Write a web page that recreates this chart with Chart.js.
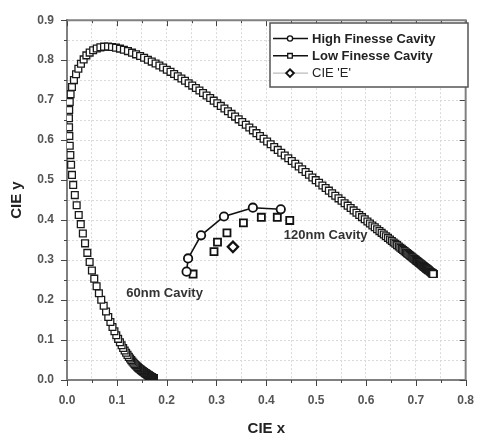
<!DOCTYPE html>
<html>
<head>
<meta charset="utf-8">
<script src="https://cdn.jsdelivr.net/npm/chart.js@4/dist/chart.umd.min.js"></script>
<style>
html,body{margin:0;padding:0;background:#fff}
canvas{display:block}
</style>
</head>
<body>
<canvas id="c" width="487" height="440"></canvas>
<script>
// CIE 1931 2-degree spectral locus: 380-415 nm (5 nm), 420-650 nm (1 nm), 655-780 nm (5 nm)
const locusX = [
.1741,.1740,.1738,.1736,.1733,.1730,.1726,.1721,
.1714,.1712,.1710,.1708,.1706,.1703,.1700,.1698,.1695,.1692,
.1689,.1685,.1681,.1677,.1673,.1669,.1664,.1659,.1654,.1649,
.1644,.1638,.1631,.1625,.1618,.1611,.1602,.1593,.1584,.1575,
.1566,.1555,.1544,.1533,.1522,.1510,.1497,.1483,.1469,.1455,
.1440,.1424,.1408,.1390,.1373,.1355,.1334,.1312,.1290,.1266,
.1241,.1214,.1186,.1157,.1127,.1096,.1062,.1026,.0989,.0952,
.0913,.0871,.0828,.0783,.0736,.0687,.0640,.0594,.0547,.0500,
.0454,.0408,.0362,.0318,.0276,.0235,.0194,.0157,.0124,.0100,
.0082,.0067,.0055,.0047,.0041,.0039,.0044,.0055,.0072,.0100,
.0139,.0181,.0228,.0280,.0334,.0389,.0455,.0525,.0597,.0670,
.0743,.0823,.0903,.0983,.1063,.1142,.1223,.1305,.1386,.1467,
.1547,.1624,.1701,.1778,.1854,.1929,.2003,.2077,.2150,.2223,
.2296,.2368,.2441,.2513,.2586,.2658,.2730,.2801,.2873,.2944,
.3016,.3087,.3159,.3230,.3302,.3373,.3445,.3516,.3588,.3659,
.3731,.3802,.3873,.3945,.4016,.4087,.4158,.4229,.4299,.4370,
.4441,.4511,.4580,.4650,.4719,.4788,.4856,.4924,.4991,.5058,
.5125,.5190,.5255,.5320,.5384,.5448,.5510,.5571,.5632,.5692,
.5752,.5809,.5865,.5920,.5975,.6029,.6079,.6128,.6176,.6223,
.6270,.6314,.6357,.6399,.6441,.6482,.6519,.6555,.6590,.6624,
.6658,.6688,.6718,.6746,.6774,.6801,.6825,.6848,.6871,.6893,
.6915,.6934,.6953,.6971,.6989,.7006,.7021,.7036,.7051,.7065,
.7079,.7092,.7104,.7117,.7128,.7140,.7150,.7160,.7171,.7180,
.7190,.7198,.7206,.7214,.7222,.7230,.7236,.7242,.7248,.7254,
.7260,
.7283,.7300,.7311,.7320,.7327,.7334,.7340,.7344,.7346,
.7347,.7347,.7347,.7347,.7347,.7347,.7347,.7347,.7347,
.7347,.7347,.7347,.7347,.7347,.7347,.7347,.7347
];
const locusY = [
.0050,.0050,.0049,.0049,.0048,.0048,.0048,.0048,
.0051,.0052,.0053,.0055,.0056,.0058,.0060,.0062,.0064,.0066,
.0069,.0072,.0075,.0079,.0082,.0086,.0090,.0095,.0099,.0104,
.0109,.0115,.0120,.0126,.0132,.0138,.0145,.0153,.0161,.0169,
.0177,.0187,.0196,.0206,.0216,.0227,.0240,.0253,.0267,.0281,
.0297,.0316,.0335,.0355,.0377,.0399,.0430,.0463,.0498,.0537,
.0578,.0628,.0680,.0737,.0800,.0868,.0945,.1029,.1119,.1219,
.1327,.1449,.1576,.1714,.1858,.2007,.2168,.2345,.2535,.2738,
.2950,.3180,.3418,.3663,.3898,.4127,.4370,.4625,.4880,.5130,
.5384,.5626,.5860,.6102,.6320,.6548,.6753,.6956,.7150,.7330,
.7502,.7650,.7786,.7909,.8019,.8120,.8190,.8250,.8293,.8321,
.8338,.8340,.8330,.8313,.8289,.8262,.8227,.8188,.8146,.8103,
.8059,.8012,.7964,.7915,.7866,.7816,.7762,.7708,.7653,.7598,
.7543,.7484,.7424,.7364,.7304,.7243,.7180,.7116,.7052,.6988,
.6923,.6856,.6790,.6723,.6656,.6589,.6520,.6452,.6383,.6314,
.6245,.6175,.6105,.6036,.5966,.5896,.5826,.5756,.5686,.5617,
.5547,.5478,.5409,.5340,.5271,.5202,.5134,.5067,.4999,.4932,
.4866,.4801,.4736,.4671,.4607,.4544,.4482,.4421,.4361,.4301,
.4242,.4185,.4129,.4074,.4019,.3965,.3915,.3866,.3819,.3771,
.3725,.3681,.3639,.3597,.3555,.3514,.3477,.3441,.3407,.3373,
.3340,.3310,.3280,.3252,.3224,.3197,.3173,.3150,.3127,.3105,
.3083,.3064,.3045,.3027,.3010,.2993,.2978,.2963,.2948,.2934,
.2920,.2907,.2895,.2882,.2871,.2859,.2849,.2839,.2828,.2819,
.2809,.2801,.2793,.2785,.2777,.2770,.2764,.2758,.2752,.2746,
.2740,
.2717,.2700,.2689,.2680,.2673,.2666,.2660,.2656,.2654,
.2653,.2653,.2653,.2653,.2653,.2653,.2653,.2653,.2653,
.2653,.2653,.2653,.2653,.2653,.2653,.2653,.2653
];

// Cavity emission colour coordinates
const highX = [0.240, 0.243, 0.269, 0.315, 0.373, 0.429];
const highY = [0.271, 0.304, 0.362, 0.409, 0.431, 0.427];
const lowX  = [0.253, 0.295, 0.302, 0.321, 0.354, 0.390, 0.422, 0.447];
const lowY  = [0.265, 0.321, 0.345, 0.368, 0.393, 0.407, 0.407, 0.399];
// Equal-energy white point
const eX = [0.333];
const eY = [0.333];

const seriesNames = ['High Finesse Cavity', 'Low Finesse Cavity', "CIE 'E'"];
const noteTexts = ['60nm Cavity', '120nm Cavity'];
const axisTitles = ['CIE x', 'CIE y'];

const pts = (xs, ys) => xs.map((v, i) => ({x: v, y: ys[i]}));
const isMajor = v => Math.abs(v * 10 - Math.round(v * 10)) < 1e-6;
const FONT = "Arial, 'Liberation Sans', sans-serif";

// Axis frame (top/right), tick marks on all sides
const framePlugin = {
  id: 'frame',
  afterDatasetsDraw(chart) {
    const {ctx, chartArea: a, scales: {x, y}} = chart;
    ctx.save();
    ctx.strokeStyle = '#444';
    ctx.lineWidth = 1;
    x.ticks.forEach(t => {
      const px = Math.round(x.getPixelForValue(t.value)) + 0.5;
      const len = isMajor(t.value) ? 6 : 3;
      ctx.beginPath();
      ctx.moveTo(px, a.bottom); ctx.lineTo(px, a.bottom + len);
      ctx.moveTo(px, a.top); ctx.lineTo(px, a.top + len);
      ctx.stroke();
    });
    y.ticks.forEach(t => {
      const py = Math.round(y.getPixelForValue(t.value)) + 0.5;
      const len = isMajor(t.value) ? 6 : 3;
      ctx.beginPath();
      ctx.moveTo(a.left, py); ctx.lineTo(a.left - len, py);
      ctx.moveTo(a.right, py); ctx.lineTo(a.right - len, py);
      ctx.stroke();
    });
    ctx.strokeStyle = '#808080';
    ctx.lineWidth = 2;
    ctx.beginPath();
    ctx.moveTo(a.left, a.top);
    ctx.lineTo(a.right, a.top);
    ctx.lineTo(a.right, a.bottom);
    ctx.stroke();
    ctx.restore();
  }
};

function marker(ctx, style, cx, cy, r, bw) {
  ctx.save();
  ctx.fillStyle = '#fff';
  ctx.strokeStyle = '#111';
  ctx.lineWidth = bw;
  ctx.beginPath();
  if (style === 'circle') {
    ctx.arc(cx, cy, r, 0, Math.PI * 2);
  } else if (style === 'rect') {
    ctx.rect(cx - r, cy - r, 2 * r, 2 * r);
  } else {
    ctx.moveTo(cx - r, cy); ctx.lineTo(cx, cy - r);
    ctx.lineTo(cx + r, cy); ctx.lineTo(cx, cy + r);
    ctx.closePath();
  }
  ctx.fill();
  ctx.stroke();
  ctx.restore();
}

// Legend box and curve annotations
const notesPlugin = {
  id: 'notes',
  afterDraw(chart) {
    const {ctx, scales: {x, y}} = chart;
    ctx.save();
    // annotations
    ctx.fillStyle = '#333';
    ctx.font = 'bold 13px ' + FONT;
    ctx.textBaseline = 'middle';
    ctx.textAlign = 'left';
    ctx.fillText(noteTexts[0], x.getPixelForValue(0.119), y.getPixelForValue(0.217));
    ctx.fillText(noteTexts[1], x.getPixelForValue(0.435), y.getPixelForValue(0.362));

    // legend
    const L = 270, T = 23, R = 468, B = 87;
    ctx.fillStyle = '#fff';
    ctx.fillRect(L, T, R - L, B - T);
    ctx.strokeStyle = '#555';
    ctx.lineWidth = 1.5;
    ctx.strokeRect(L, T, R - L, B - T);
    const styles = ['circle', 'rect', 'diamond'];
    seriesNames.forEach((name, i) => {
      const ly = 38.5 + i * 17.3;
      ctx.strokeStyle = i < 2 ? '#111' : '#aaa';
      ctx.lineWidth = i < 2 ? 1.5 : 1;
      ctx.beginPath();
      ctx.moveTo(273, ly); ctx.lineTo(308, ly);
      ctx.stroke();
      if (i === 2) marker(ctx, 'diamond', 290, ly, 3.8, 2);
      else marker(ctx, styles[i], 290, ly, i === 0 ? 2.6 : 2.3, 1.3);
      ctx.fillStyle = '#222';
      ctx.font = (i < 2 ? 'bold ' : '') + '13px ' + FONT;
      ctx.fillText(name, 312, ly + 0.5);
    });
    ctx.restore();
  }
};

const gridOpts = {color: '#d9d9d9', lineWidth: 1, drawTicks: false};
const borderOpts = {color: '#808080', width: 2, dash: [2, 2]};
const tickFont = {family: FONT, size: 12, weight: 'bold'};
const titleFont = {family: FONT, size: 15, weight: 'bold'};

new Chart(document.getElementById('c'), {
  type: 'scatter',
  data: {
    datasets: [
      {
        label: 'locus',
        data: pts(locusX, locusY),
        pointStyle: 'rect',
        pointRadius: 4.8,
        pointBorderWidth: 1.3,
        pointBorderColor: '#1a1a1a',
        pointBackgroundColor: '#fff',
        showLine: false,
        order: 3
      },
      {
        label: seriesNames[1],
        data: pts(lowX, lowY),
        pointStyle: 'rect',
        pointRadius: 5.0,
        pointBorderWidth: 1.8,
        pointBorderColor: '#111',
        pointBackgroundColor: '#fff',
        showLine: false,
        order: 2
      },
      {
        label: seriesNames[0],
        data: pts(highX, highY),
        pointStyle: 'circle',
        pointRadius: 4.2,
        pointBorderWidth: 1.8,
        pointBorderColor: '#111',
        pointBackgroundColor: '#fff',
        borderColor: '#111',
        borderWidth: 1.6,
        showLine: true,
        order: 1
      },
      {
        label: seriesNames[2],
        data: pts(eX, eY),
        pointStyle: 'rectRot',
        pointRadius: 5.2,
        pointBorderWidth: 2.2,
        pointBorderColor: '#111',
        pointBackgroundColor: '#fff',
        showLine: false,
        order: 0
      }
    ]
  },
  options: {
    responsive: false,
    animation: false,
    events: [],
    layout: {padding: {left: 0, top: 15, right: 10, bottom: 0}},
    plugins: {legend: {display: false}, tooltip: {enabled: false}},
    scales: {
      x: {
        type: 'linear',
        position: 'bottom',
        min: 0, max: 0.8,
        afterFit: s => { s.height = 60; },
        grid: gridOpts,
        border: borderOpts,
        ticks: {
          stepSize: 0.05,
          autoSkip: false,
          maxRotation: 0,
          padding: 13,
          color: '#555',
          font: tickFont,
          callback: v => isMajor(v) ? v.toFixed(1) : ''
        },
        title: {display: true, text: axisTitles[0], color: '#222', font: titleFont, padding: {top: 0, bottom: 2}}
      },
      y: {
        type: 'linear',
        position: 'left',
        min: 0, max: 0.9,
        afterFit: s => { s.width = 67; },
        grid: gridOpts,
        border: borderOpts,
        ticks: {
          stepSize: 0.05,
          autoSkip: false,
          padding: 13,
          color: '#555',
          font: tickFont,
          callback: v => isMajor(v) ? v.toFixed(1) : ''
        },
        title: {display: true, text: axisTitles[1], color: '#222', font: titleFont, padding: {top: 8, bottom: 0}}
      }
    }
  },
  plugins: [framePlugin, notesPlugin]
});
</script>
</body>
</html>
